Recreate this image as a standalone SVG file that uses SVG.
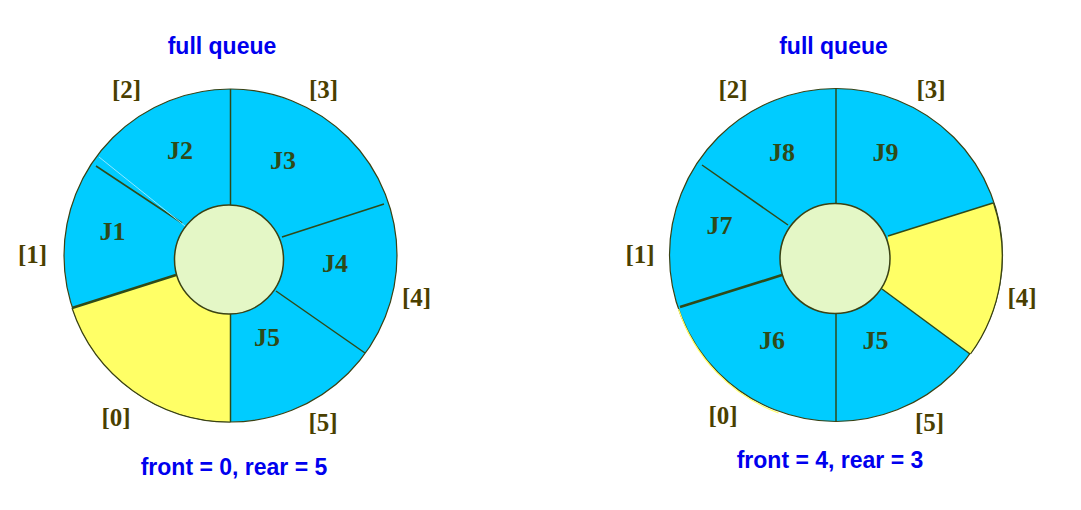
<svg xmlns="http://www.w3.org/2000/svg" width="1081" height="510" viewBox="0 0 1081 510">
<style>
.bg{fill:#ffffff}
.cyan{fill:#00ccff;stroke:#3a4214;stroke-width:1.2}
.yel{fill:#ffff66;stroke:none}
.yarc{fill:none;stroke:#3a4214;stroke-width:1.2}
.div{stroke:#2f4a18;stroke-width:1.5;fill:none}
.thick{stroke:#2f4a18;stroke-width:2.6;fill:none}
.hub{fill:#e4f7c6;stroke:#3a4214;stroke-width:1.5}
.idx{font-family:"Liberation Serif","Times New Roman",serif;font-weight:bold;font-size:25px;fill:#4a3f00;text-anchor:middle}
.job{font-family:"Liberation Serif","Times New Roman",serif;font-weight:bold;font-size:26px;fill:#2f4a18;text-anchor:middle}
.ttl{font-family:"Liberation Sans",Arial,sans-serif;font-weight:bold;font-size:23px;fill:#0000ee;text-anchor:middle}
</style>
<rect class="bg" x="0" y="0" width="1081" height="510"/>

<g id="left-queue">
  <g id="L-ring"><circle class="cyan" cx="230.5" cy="255.5" r="166.5"/></g>
  <g id="L-slot0">
    <path class="yel" d="M230.5,312 L230.5,422 A166.5,166.5 0 0 1 72,308 L176,275 Z"/>
    <path class="yarc" d="M230.5,422 A166.5,166.5 0 0 1 72,308"/>
  </g>
  <g id="L-connectors">
    <line class="div" x1="230.5" y1="89" x2="230.5" y2="207"/>
    <line class="div" x1="282" y1="237" x2="384" y2="204"/>
    <line class="div" x1="276" y1="291" x2="365" y2="353"/>
    <line class="div" x1="230.5" y1="312" x2="230.5" y2="422"/>
    <line class="thick" x1="176" y1="275" x2="72" y2="308"/>
    <line class="div" x1="96" y1="166" x2="182" y2="223"/>
    <line x1="99" y1="157" x2="185" y2="226" stroke="#8fe8ff" stroke-width="1"/>
  </g>
  <g id="L-hub"><circle class="hub" cx="229" cy="259.5" r="54.5"/></g>
  <g id="L-jobs">
    <text class="job" x="180" y="159">J2</text>
    <text class="job" x="283" y="169">J3</text>
    <text class="job" x="112.5" y="240">J1</text>
    <text class="job" x="335" y="272">J4</text>
    <text class="job" x="267" y="346">J5</text>
  </g>
  <g id="L-indices">
    <text class="idx" x="126.5" y="98">[2]</text>
    <text class="idx" x="323.5" y="98">[3]</text>
    <text class="idx" x="32.5" y="263">[1]</text>
    <text class="idx" x="416.5" y="306">[4]</text>
    <text class="idx" x="323" y="431">[5]</text>
    <text class="idx" x="116" y="426">[0]</text>
  </g>
  <text class="ttl" x="222" y="54">full queue</text>
  <text class="ttl" x="234" y="475">front = 0, rear = 5</text>
</g>

<g id="right-queue">
  <g id="R-ring"><circle class="cyan" cx="836" cy="255" r="166.5"/></g>
  <g id="R-edge"><path d="M680,308 A166.5,166.5 0 0 0 780,412" fill="none" stroke="#ffff66" stroke-width="1.2" transform="translate(-1.5,1)"/></g>
  <g id="R-slot4">
    <path class="yel" d="M888,236 L993.5,203 A166.5,166.5 0 0 1 970.5,354 L882,289 Z"/>
    <path class="yarc" d="M993.5,203 A166.5,166.5 0 0 1 970.5,354"/>
  </g>
  <g id="R-connectors">
    <line class="div" x1="836" y1="89" x2="836" y2="203"/>
    <line class="div" x1="888" y1="236" x2="993" y2="203"/>
    <line class="div" x1="882" y1="289" x2="970" y2="354"/>
    <line class="div" x1="836" y1="314" x2="836" y2="421"/>
    <line class="thick" x1="782" y1="275" x2="680" y2="307"/>
    <line class="div" x1="702" y1="165" x2="788" y2="225"/>
  </g>
  <g id="R-hub"><circle class="hub" cx="835" cy="258.5" r="55"/></g>
  <g id="R-jobs">
    <text class="job" x="782" y="161">J8</text>
    <text class="job" x="885.5" y="161">J9</text>
    <text class="job" x="719.5" y="234">J7</text>
    <text class="job" x="772" y="349">J6</text>
    <text class="job" x="875.5" y="349">J5</text>
  </g>
  <g id="R-indices">
    <text class="idx" x="733" y="98">[2]</text>
    <text class="idx" x="931" y="98">[3]</text>
    <text class="idx" x="640" y="263">[1]</text>
    <text class="idx" x="1022" y="306">[4]</text>
    <text class="idx" x="929.5" y="431">[5]</text>
    <text class="idx" x="723" y="424">[0]</text>
  </g>
  <text class="ttl" x="833.5" y="54">full queue</text>
  <text class="ttl" x="830" y="468">front = 4, rear = 3</text>
</g>
</svg>
